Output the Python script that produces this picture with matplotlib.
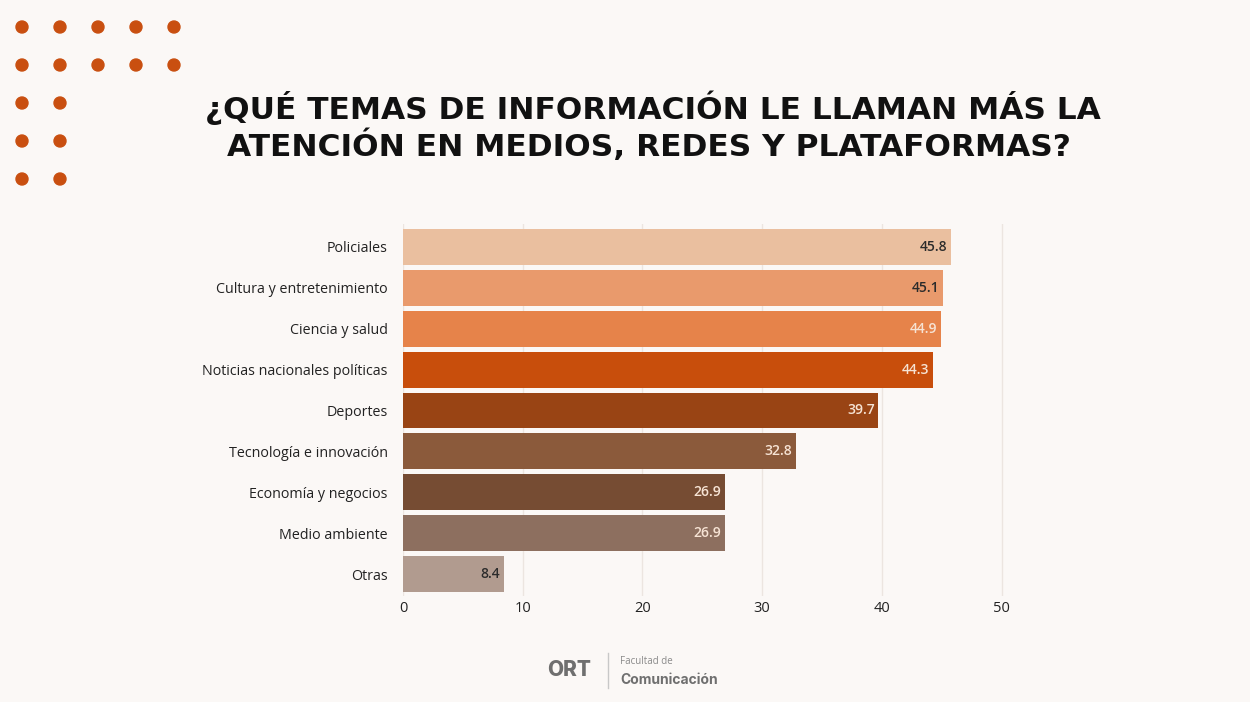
import matplotlib.pyplot as plt
from matplotlib.patches import Ellipse

plt.rcParams['font.family'] = ['Open Sans', 'DejaVu Sans']

temas = ['Policiales', 'Cultura y entretenimiento', 'Ciencia y salud',
         'Noticias nacionales políticas', 'Deportes', 'Tecnología e innovación',
         'Economía y negocios', 'Medio ambiente', 'Otras']
porcentajes = [45.8, 45.1, 44.9, 44.3, 39.7, 32.8, 26.9, 26.9, 8.4]
colores = ['#EABF9F', '#E99A6C', '#E6834A', '#C84E0C', '#994414',
           '#8B5A3B', '#764C33', '#8D6F5F', '#B19B8F']
color_valor = ['#2b2b2b', '#2b2b2b', '#F6E3D4', '#F6E3D4', '#F6E3D4',
               '#F6E3D4', '#F6E3D4', '#F6E3D4', '#2b2b2b']
ticks_x = [0, 10, 20, 30, 40, 50]

fondo = '#FBF8F6'
fig = plt.figure(figsize=(12.5, 7.02), dpi=100, facecolor=fondo)
ax = fig.add_axes([0.3224, 0.1503, 0.498, 0.5299], facecolor=fondo)

pos = list(range(len(temas)))
ax.barh(pos, porcentajes, height=0.88, color=colores, zorder=2)
for p, v, c in zip(pos, porcentajes, color_valor):
    ax.text(v - 0.3, p, f'{v}', ha='right', va='center', fontsize=10,
            fontweight='semibold', color=c, zorder=3)

ax.set_ylim(8.55, -0.55)
ax.set_xlim(0, 52)
ax.set_yticks(pos)
ax.set_yticklabels(temas, fontsize=10.3, color='#222222')
ax.set_xticks(ticks_x)
ax.set_xticklabels([str(t) for t in ticks_x], fontsize=10.5, color='#222222')
ax.tick_params(length=0)
ax.tick_params(axis='x', pad=3)
ax.tick_params(axis='y', pad=11)
ax.grid(axis='x', color='#ECE5E0', linewidth=1, zorder=0)
for s in ax.spines.values():
    s.set_visible(False)

# titulo
fig.text(0.522, 0.846, '¿QUÉ TEMAS DE INFORMACIÓN LE LLAMAN MÁS LA',
         ha='center', va='center', fontsize=22.5, fontweight='bold',
         color='#111111', family=['DejaVu Sans'])
fig.text(0.519, 0.793, 'ATENCIÓN EN MEDIOS, REDES Y PLATAFORMAS?',
         ha='center', va='center', fontsize=22.5, fontweight='bold',
         color='#111111', family=['DejaVu Sans'])

# puntos decorativos
filas = [5, 5, 2, 2, 2]
for i, n in enumerate(filas):
    for j in range(n):
        fig.patches.append(Ellipse(((22 + 38 * j) / 1250, 1 - (27 + 38 * i) / 702),
                                   12 / 1250, 12 / 702, transform=fig.transFigure,
                                   color='#C94F10'))

# logo
fig.text(0.455, 0.045, 'ORT', ha='center', va='center', fontsize=15,
         fontweight='heavy', color='#6F6F6F', family=['Inter', 'DejaVu Sans'])
fig.add_artist(plt.Line2D([0.4865, 0.4865], [0.02, 0.07], color='#C8C8C8', lw=1))
fig.text(0.496, 0.057, 'Facultad de', ha='left', va='center', fontsize=7,
         color='#8A8A8A')
fig.text(0.496, 0.031, 'Comunicación', ha='left', va='center', fontsize=10,
         fontweight='bold', color='#6F6F6F', family=['Inter', 'DejaVu Sans'])

fig.savefig('out.png', dpi=100, facecolor=fondo)
